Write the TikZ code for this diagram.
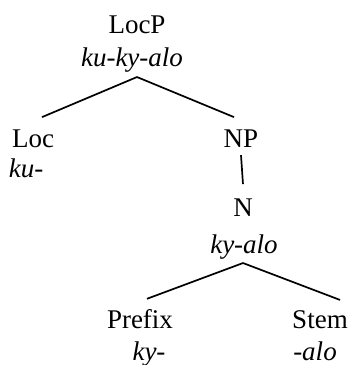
\documentclass[tikz,border=0pt]{standalone}
\usepackage{fontspec}
\setmainfont{Liberation Serif}
\begin{document}
\begin{tikzpicture}[x=1pt,y=-1pt,
  lbl/.style={anchor=base,inner sep=0pt,font=\fontsize{27}{32}\selectfont},
  form/.style={lbl,font=\fontsize{27}{32}\selectfont\itshape},
  branch/.style={line width=1.7pt}]
\useasboundingbox (0,0) rectangle (351,365);
\node[lbl]  (locp)  at (137,33)  {LocP};
\node[form] (locpf) at (132,66)  {ku-ky-alo};
\node[lbl]  (loc)   at (33,147)  {Loc};
\node[form] (locf)  at (26,177)  {ku-};
\node[lbl]  (np)    at (241,147) {NP};
\node[lbl]  (n)     at (243,216) {N};
\node[form] (nf)    at (244,253) {ky-alo};
\node[lbl]  (pre)   at (140,328) {Prefix};
\node[form] (pref)  at (149,360) {ky-};
\node[lbl]  (stem)  at (320,328) {Stem};
\node[form] (stemf) at (315,360) {-alo};
\draw[branch] ([xshift=5pt,yshift=-5pt]locpf.south) -- ([xshift=9pt,yshift=12pt]loc.north);
\draw[branch] ([xshift=5pt,yshift=-5pt]locpf.south) -- ([xshift=-7pt,yshift=12pt]np.north);
\draw[branch] ([yshift=-8pt]np.south) -- ([yshift=14pt]n.north);
\draw[branch] ([xshift=-1pt,yshift=-4pt]nf.south) -- ([xshift=7pt,yshift=10pt]pre.north);
\draw[branch] ([xshift=-1pt,yshift=-4pt]nf.south) -- ([xshift=20pt,yshift=10pt]stem.north);
\end{tikzpicture}
\end{document}
